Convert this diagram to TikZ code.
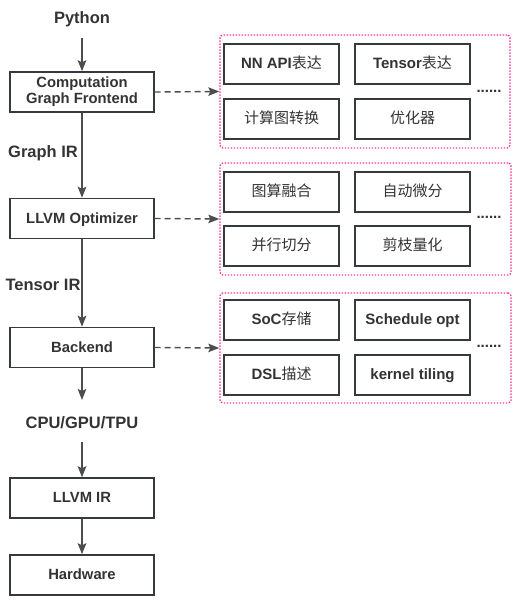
\documentclass[tikz,border=0pt]{standalone}
\usepackage{fontspec}
\setmainfont{Liberation Sans}
\newfontfamily\cjk{Noto Sans CJK SC}
\usetikzlibrary{arrows.meta}
\definecolor{txt}{HTML}{333333}
\definecolor{bord}{HTML}{36393D}
\definecolor{arr}{HTML}{4D4D4D}
\definecolor{pinkd}{HTML}{FF3399}
\tikzset{
  mainbox/.style={draw=bord, line width=1.4pt, minimum width=144pt, minimum height=40pt, inner sep=0pt, align=center, text=txt, font=\fontsize{14.8}{17}\selectfont\bfseries},
  oneline/.style={text height=10.6pt, text depth=1.4pt},
  subbox/.style={draw=bord, line width=1.4pt, minimum width=115pt, minimum height=40pt, inner sep=0pt, align=center, text=txt, text height=10.8pt, text depth=1.8pt, font=\fontsize{15}{18}\selectfont\bfseries},
  lbl/.style={text=txt, inner sep=0pt, font=\fontsize{16.5}{19}\selectfont\bfseries},
  group/.style={draw=pinkd, line width=1.4pt, dash pattern=on 1.4pt off 1.6pt, rounded corners=3pt},
  flow/.style={draw=arr, line width=1.8pt, -{Stealth[length=11pt,width=8.5pt,inset=2pt]}},
  dflow/.style={draw=arr, line width=1.4pt, dash pattern=on 6pt off 4pt, -{Stealth[length=11pt,width=8.5pt,inset=2pt]}},
  dots/.style={text=txt, inner sep=0pt, font=\fontsize{15}{18}\selectfont\bfseries}
}
\begin{document}
\begin{tikzpicture}[x=1pt,y=-1pt]
\useasboundingbox (0,0) rectangle (521,602);
% left column
\node[lbl] (py) at (82,19) {Python};
\node[mainbox] (fe) at (82,92) {Computation\\[-1pt]Graph Frontend};
\node[mainbox, oneline] (opt) at (82,218.5) {LLVM Optimizer};
\node[mainbox, oneline] (be) at (82,347.5) {Backend};
\coordinate (beout) at (82,400);
\node[lbl] (cpu) at (82,423) {CPU/GPU/TPU};
\node[mainbox, oneline] (ir) at (82,498) {LLVM IR};
\node[mainbox, oneline] (hw) at (82,575) {Hardware};
\node[lbl] (gir) at (43,153) {Graph IR};
\node[lbl] (tir) at (43,285) {Tensor IR};
\draw[flow] (82,38) -- (fe.north);
\draw[flow] (fe.south) -- (opt.north);
\draw[flow] (opt.south) -- (be.north);
\draw[flow] (be.south) -- (beout);
\draw[flow] (82,442) -- (ir.north);
\draw[flow] (ir.south) -- (hw.north);
% group 1
\node[group, minimum width=290pt, minimum height=113pt] (g1) at (365,91.5) {};
\node[subbox] (a1) at (281.5,64) {NN API{\cjk\mdseries 表达}};
\node[subbox] (a2) at (412.5,64) {Tensor{\cjk\mdseries 表达}};
\node[subbox] (a3) at (281.5,119) {\cjk\mdseries 计算图转换};
\node[subbox] (a4) at (412.5,119) {\cjk\mdseries 优化器};
\node[dots] (d1) at (489,91) {......};
% group 2
\node[group, minimum width=291pt, minimum height=112pt] (g2) at (365.5,219) {};
\node[subbox] (b1) at (281.5,192) {\cjk\mdseries 图算融合};
\node[subbox] (b2) at (412.5,192) {\cjk\mdseries 自动微分};
\node[subbox] (b3) at (281.5,246) {\cjk\mdseries 并行切分};
\node[subbox] (b4) at (412.5,246) {\cjk\mdseries 剪枝量化};
\node[dots] (d2) at (489,217) {......};
% group 3
\node[group, minimum width=291pt, minimum height=110pt] (g3) at (365.5,348) {};
\node[subbox] (c1) at (281.5,320) {SoC{\cjk\mdseries 存储}};
\node[subbox] (c2) at (412.5,320) {Schedule opt};
\node[subbox] (c3) at (281.5,375) {DSL{\cjk\mdseries 描述}};
\node[subbox] (c4) at (412.5,375) {kernel tiling};
\node[dots] (d3) at (489,346) {......};
% dashed connectors
\draw[dflow] (fe.east) -- (g1.west);
\draw[dflow] (opt.east) -- (g2.west);
\draw[dflow] (be.east) -- (g3.west);
\end{tikzpicture}
\end{document}
